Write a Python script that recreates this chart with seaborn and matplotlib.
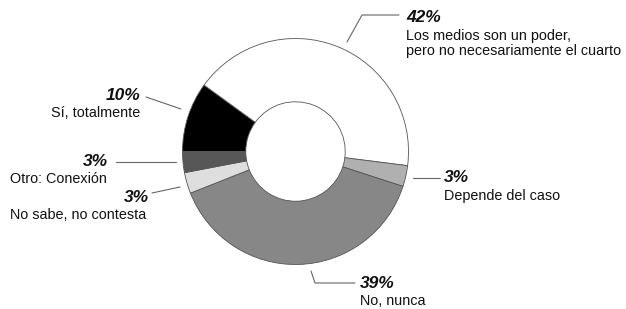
import matplotlib
matplotlib.use("Agg")
import matplotlib.pyplot as plt
import seaborn as sns

# Data
categories = ["Sí, totalmente",
              "Los medios son un poder,\npero no necesariamente el cuarto",
              "Depende del caso",
              "No, nunca",
              "No sabe, no contesta",
              "Otro: Conexión"]
values = [10, 42, 3, 39, 3, 3]
pct_labels = ["10%", "42%", "3%", "39%", "3%", "3%"]
colors = ["#000000", "#ffffff", "#b0b0b0", "#878787", "#dedede", "#575757"]

sns.set_theme(style="white")
plt.rcParams['font.family'] = ['Liberation Sans', 'DejaVu Sans']

W, H = 626, 309
fig = plt.figure(figsize=(W / 100, H / 100), dpi=100)
ax = fig.add_axes([0, 0, 1, 1])

cx, cy = 295.5, H - 151.5
R = 113.0
ax.pie(values, colors=colors, startangle=180, counterclock=False,
       radius=R, center=(cx, cy),
       wedgeprops=dict(width=R * 0.56, edgecolor="#555555", linewidth=0.6))
ax.set_xlim(0, W)
ax.set_ylim(0, H)
ax.set_aspect('equal', adjustable='box')
ax.axis('off')

def Y(y):
    return H - y

lc = "#666666"
lw = 0.8
fs = 10.4
pfs = 12.5

# label layout: (pct xy, ha, leader points)
layout = [
    ((140, 95), "right", [(146, 97), (181, 109)]),
    ((406, 18), "left", [(347, 42), (362, 15), (399, 15)]),
    ((444, 178), "left", [(413, 178), (440, 178)]),
    ((360, 283), "left", [(311, 271), (315, 283), (355, 283)]),
    ((149, 197), "right", [(152, 193), (180, 187)]),
    ((108, 161), "right", [(116, 162), (176, 162)]),
]

for i, ((px, py), ha, pts) in enumerate(layout):
    ax.text(px, Y(py), pct_labels[i], ha=ha, va="center", fontsize=pfs,
            fontweight="bold", fontstyle="italic", color="#111111")
    cat = categories[i]
    if i == 5:
        ax.text(10, Y(179), cat, ha="left", va="center", fontsize=fs, color="#111111")
    elif i == 4:
        ax.text(10, Y(215), cat, ha="left", va="center", fontsize=fs, color="#111111")
    else:
        ax.text(px, Y(py + 11), cat, ha=ha, va="top", fontsize=fs,
                color="#111111", linespacing=1.05)
    xs = [p[0] for p in pts]
    ys = [Y(p[1]) for p in pts]
    ax.plot(xs, ys, color=lc, lw=lw)

fig.savefig("out.png", dpi=100)
